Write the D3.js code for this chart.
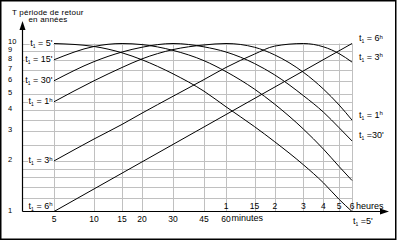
<!DOCTYPE html>
<html>
<head>
<meta charset="utf-8">
<script src="https://cdn.jsdelivr.net/npm/d3@7"></script>
<style>
  body { margin: 0; background: #fff; }
  svg { display: block; font-family: "Liberation Sans", Arial, sans-serif; }
</style>
</head>
<body>
<svg class="main" width="397" height="242"></svg>
<script>
(function () {
  'use strict';

  // x: duration in minutes, y: return period in years
  const minuteTicks = [5, 10, 15, 20, 30, 45, 60];
  const hourTicks = [60, 90, 120, 180, 240, 300, 360];
  const hourLabels = ["1", "15", "2", "3", "4", "5", "6"];
  const periodTicks = [1, 2, 3, 4, 5, 6, 7, 8, 9, 10];
  const periodGrid = [1.2, 1.4, 1.6, 1.8, 2, 2.5, 3, 3.5, 4, 4.5, 5, 6, 7, 8, 9, 10];

  const curve5min = [[5, 10], [10, 9.6], [15, 8.8], [20, 8.0], [30, 6.6], [45, 5.2], [60, 4.2], [90, 3.2], [120, 2.6], [180, 1.9], [240, 1.48], [300, 1.18], [360, 1]];
  const curve15min = [[5, 8], [10, 9.6], [15, 10], [20, 9.85], [30, 9.1], [45, 7.9], [60, 6.8], [90, 5.35], [120, 4.35], [180, 3.1], [240, 2.35], [300, 1.85], [360, 1.53]];
  const curve30min = [[5, 6], [10, 7.8], [15, 8.9], [20, 9.5], [30, 10], [45, 9.55], [60, 8.9], [90, 7.6], [120, 6.5], [180, 4.9], [240, 3.9], [300, 3.15], [360, 2.63]];
  const curve1h = [[5, 4.5], [10, 6.0], [15, 7.2], [20, 8.1], [30, 9.2], [45, 9.8], [60, 10], [90, 9.5], [120, 8.55], [180, 6.75], [240, 5.35], [300, 4.3], [360, 3.5]];
  const curve3h = [[5, 2], [10, 2.7], [15, 3.3], [20, 3.85], [30, 4.85], [45, 6.1], [60, 7.2], [90, 8.65], [120, 9.65], [180, 10], [240, 9.55], [300, 8.7], [360, 7.75]];
  const curve6h = [[5, 1], [360, 10]];

  const curves = [curve5min, curve15min, curve30min, curve1h, curve3h, curve6h];
  const leftLabels = [["5", "'"], ["15", "'"], ["30", "'"], ["1", "h"], ["3", "h"], ["6", "h"]];
  // right side: curve index, value, unit, separator
  const rightLabels = [[5, "6", "h", " = "], [4, "3", "h", " = "], [3, "1", "h", " = "], [2, "30", "'", " ="]];

  const svg = d3.select("svg.main");

  // the original time axis is not evenly logarithmic, so the scale is piecewise
  const x = d3.scaleLog().domain([5, 10, 20, 60, 360]).range([54, 94, 142, 226, 352]);
  const y = d3.scaleLog().domain([1, 10]).range([211.5, 43.5]);
  const axisX = 22.5;

  svg.append("rect")
    .attr("x", 0.75).attr("y", 0.75)
    .attr("width", 395).attr("height", 238.5)
    .attr("fill", "none").attr("stroke", "black").attr("stroke-width", 1.5);

  const grid = svg.append("g").attr("stroke", "#c0c0c0").attr("stroke-width", 1);

  grid.selectAll("line.h")
    .data(periodGrid)
    .join("line")
    .attr("x1", axisX).attr("x2", x(360))
    .attr("y1", d => Math.round(y(d)) + 0.5).attr("y2", d => Math.round(y(d)) + 0.5);

  grid.selectAll("line.v")
    .data(minuteTicks.concat(hourTicks.slice(1)))
    .join("line")
    .attr("x1", d => Math.round(x(d)) + 0.5).attr("x2", d => Math.round(x(d)) + 0.5)
    .attr("y1", y(10)).attr("y2", y(1));

  // axes with arrows
  const axes = svg.append("g").attr("stroke", "black").attr("stroke-width", 1.2);
  axes.append("line").attr("x1", axisX).attr("x2", axisX).attr("y1", y(1)).attr("y2", 26);
  axes.append("line").attr("x1", axisX).attr("x2", 382).attr("y1", y(1)).attr("y2", y(1));
  svg.append("path")
    .attr("d", `M${axisX},21 L${axisX - 3},30 L${axisX + 3},30 Z`)
    .attr("fill", "black");
  svg.append("path")
    .attr("d", `M389,${y(1)} L380,${y(1) - 3} L380,${y(1) + 3} Z`)
    .attr("fill", "black");

  const labels = svg.append("g").attr("font-size", 8.5).attr("fill", "black");

  // crowded labels near the top are pushed upward, as on the original
  let prevY = Infinity;
  const periodLabelY = periodTicks.map(d => {
    const ly = Math.min(y(d) + 1, prevY - 8.5);
    prevY = ly;
    return [d, ly];
  });

  labels.selectAll("text.period")
    .data(periodLabelY)
    .join("text")
    .attr("x", 8)
    .attr("y", d => d[1])
    .attr("font-size", 7.5)
    .text(d => d[0]);

  const xLabels = svg.append("g").attr("font-size", 8.5);

  xLabels.selectAll("text.minute")
    .data(minuteTicks)
    .join("text")
    .attr("x", d => x(d))
    .attr("y", y(1) + 10.5)
    .attr("text-anchor", "middle")
    .text(d => d);

  xLabels.selectAll("text.hour")
    .data(hourTicks)
    .join("text")
    .attr("x", d => x(d))
    .attr("y", y(1) - 3)
    .attr("text-anchor", "middle")
    .text((d, i) => hourLabels[i]);

  xLabels.append("text").attr("x", x(60) + 5.5).attr("y", y(1) + 9).attr("font-size", 9).text("minutes");
  xLabels.append("text").attr("x", x(360) + 4).attr("y", y(1) - 3).attr("font-size", 9).text("heures");

  const title = svg.append("g").attr("font-size", 8).attr("letter-spacing", 0.2);
  title.append("text").attr("x", 12).attr("y", 14.5).text("T période de retour");
  title.append("text").attr("x", 48).attr("y", 22).attr("text-anchor", "middle").text("en années");

  function tLabel(selection, lx, ly, value, unit, sep, anchor) {
    const t = selection.append("text")
      .attr("x", lx).attr("y", ly)
      .attr("font-size", 9)
      .attr("text-anchor", anchor || "start");
    t.append("tspan").text("t");
    t.append("tspan").text("1").attr("font-size", 5).attr("dy", 2);
    t.append("tspan").text(sep).attr("dy", -2);
    if (unit === "h") {
      t.append("tspan").text(value);
      t.append("tspan").text("h").attr("font-size", 6).attr("dy", -2.5);
    } else {
      t.append("tspan").text(value + unit);
    }
    return t;
  }

  const line = d3.line()
    .x(d => x(d[0]))
    .y(d => y(d[1]))
    .curve(d3.curveMonotoneX);

  svg.append("g")
    .selectAll("path")
    .data(curves)
    .join("path")
    .attr("d", line)
    .attr("fill", "none")
    .attr("stroke", "black")
    .attr("stroke-width", 1);

  // left labels sit on a white box that hides the grid behind them
  const leftGroup = svg.append("g");
  curves.forEach((c, i) => {
    const ly = Math.min(y(c[0][1]) + 2.5, y(1) - 3);
    const t = tLabel(leftGroup, x(5) - 1.5, ly, leftLabels[i][0], leftLabels[i][1], " = ", "end");
    const box = t.node().getBBox();
    leftGroup.insert("rect", () => t.node())
      .attr("x", box.x - 0.5)
      .attr("y", ly - 7)
      .attr("width", x(5) - box.x)
      .attr("height", 8.5)
      .attr("fill", "white");
  });

  rightLabels.forEach(([ci, value, unit, sep]) => {
    const c = curves[ci];
    tLabel(labels, x(360) + 7, y(c[c.length - 1][1]) - 2.5, value, unit, sep);
  });

  tLabel(labels, x(360) + 1, y(1) + 12, "5", "'", " =");
}());
</script>
</body>
</html>
